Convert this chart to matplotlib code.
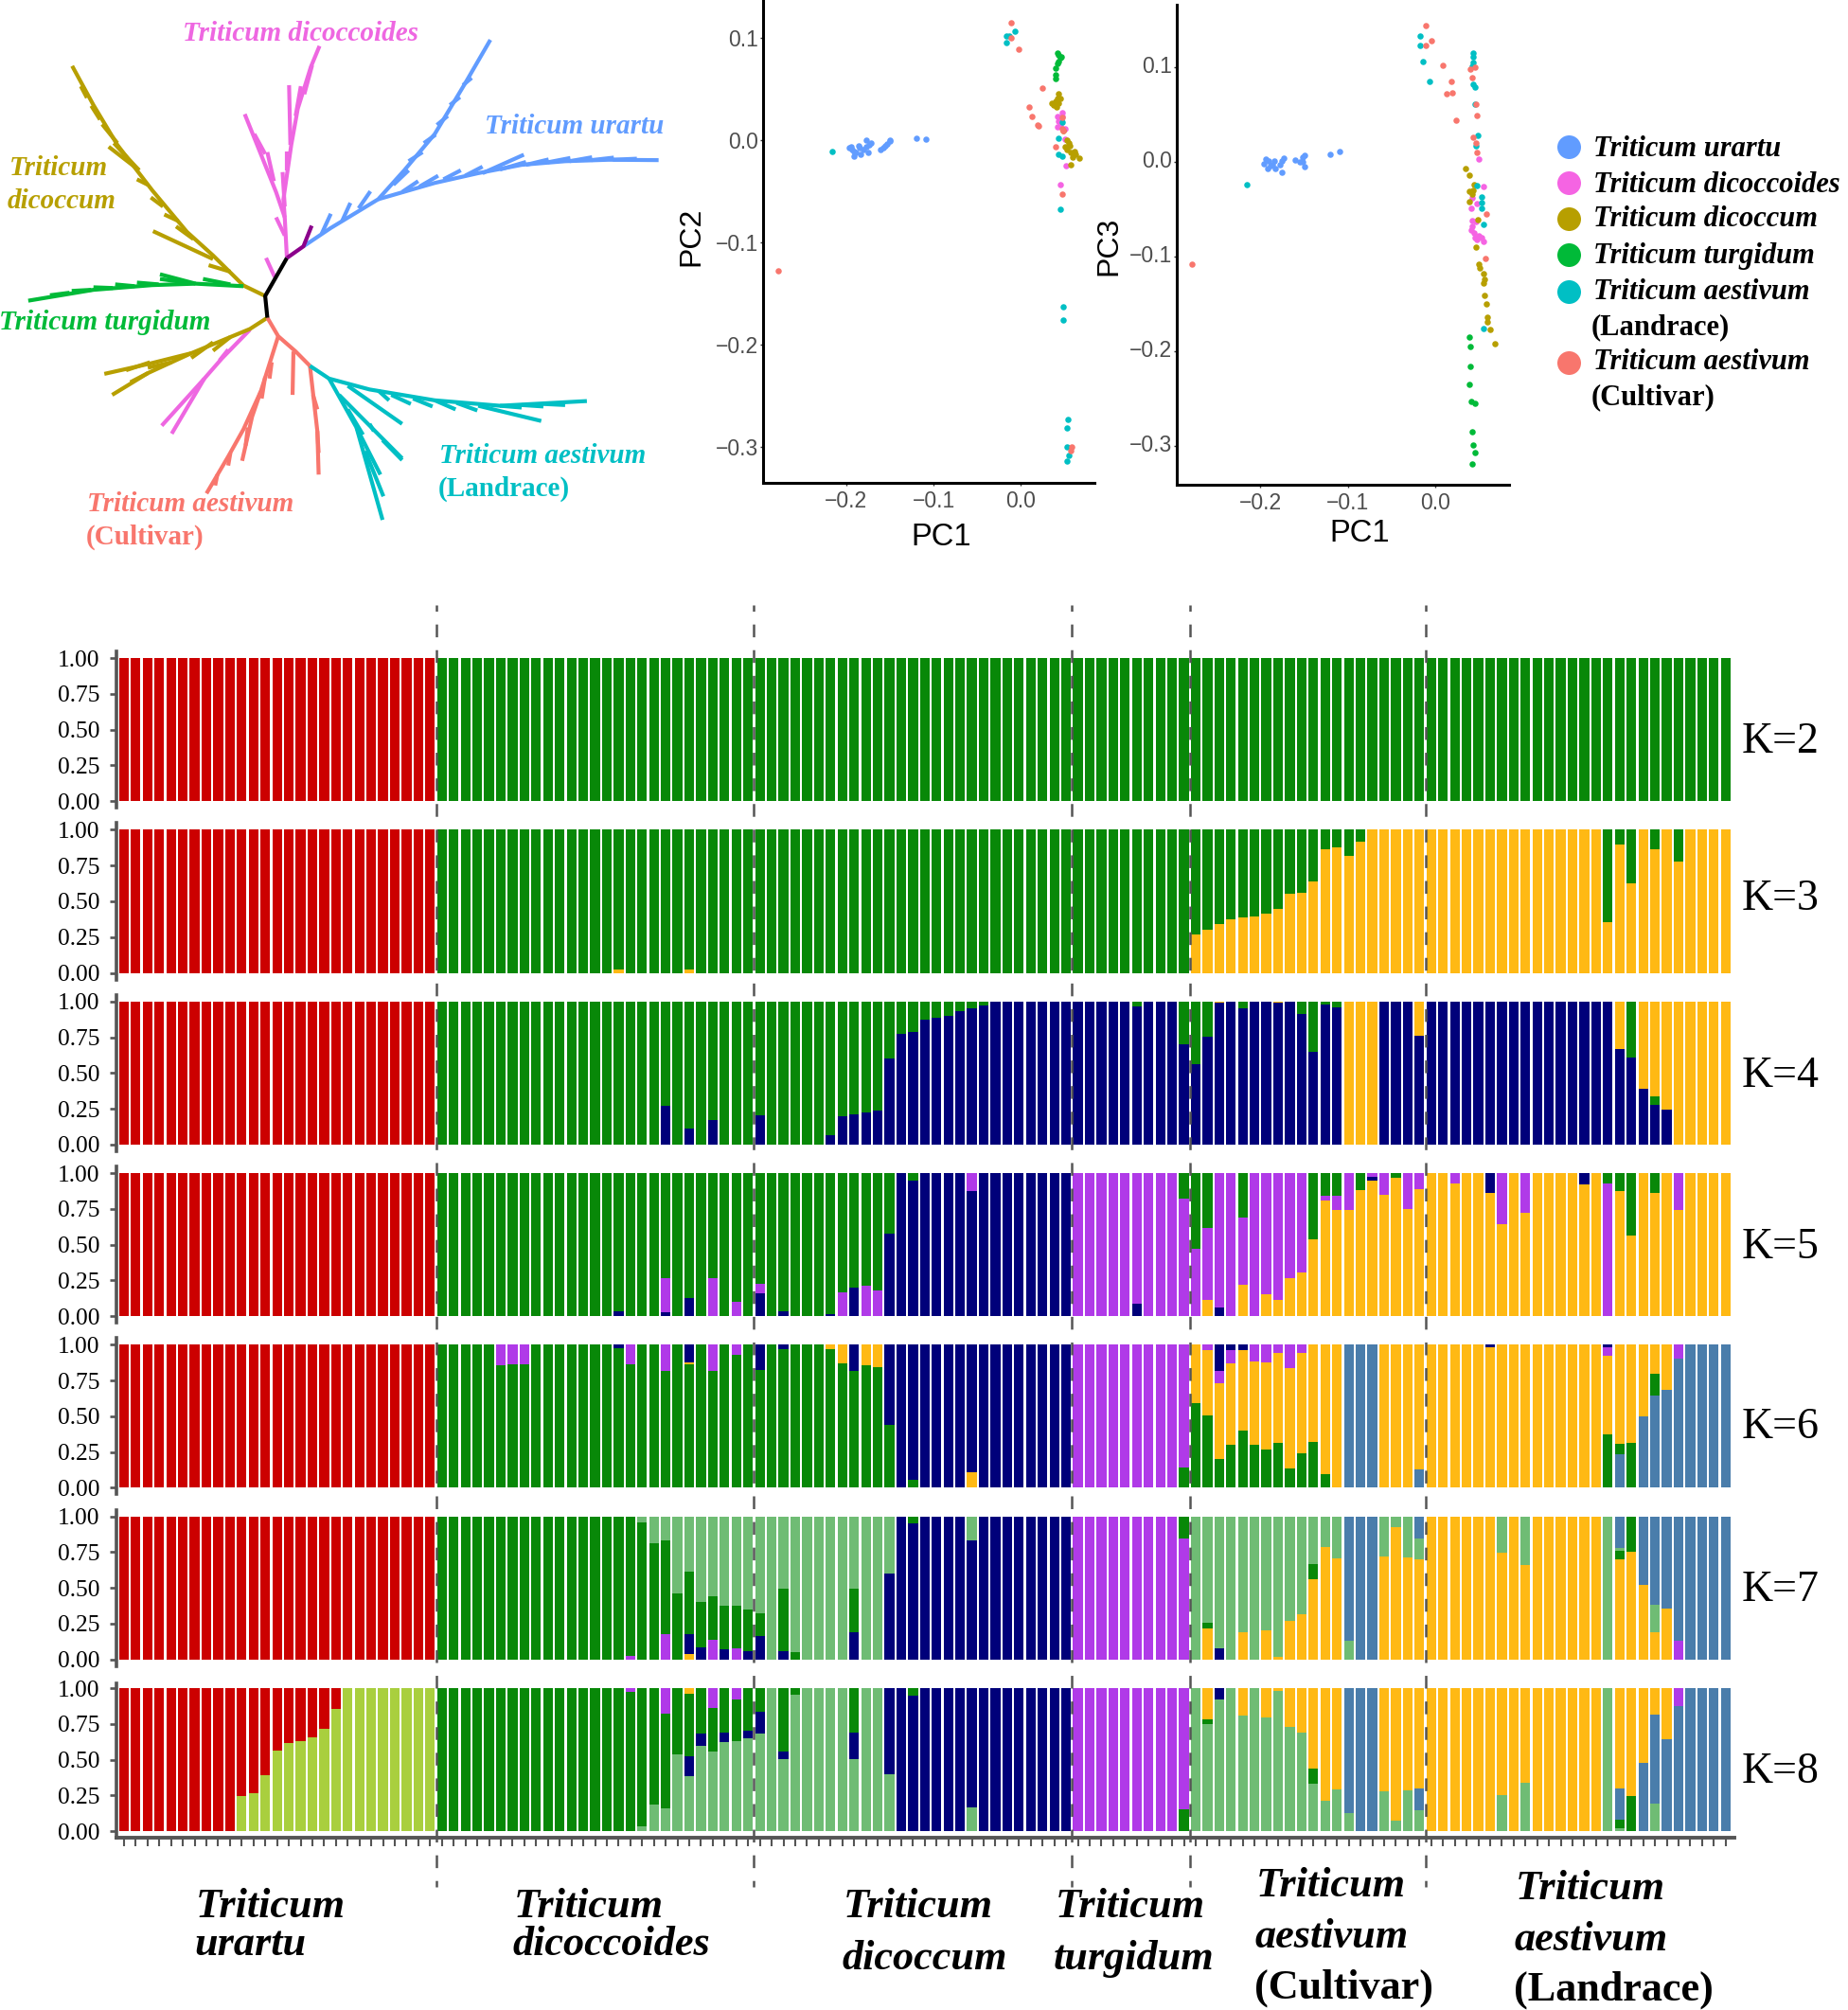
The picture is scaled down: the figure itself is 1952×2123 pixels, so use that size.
import matplotlib
matplotlib.use("Agg")
import matplotlib.pyplot as plt
from matplotlib.transforms import Affine2D
import numpy as np

W, H = 1952, 2123
plt.rcParams["lines.scale_dashes"] = False

# population sizes along the structure bars
group_sizes = [27, 27, 27, 10, 20, 26]
k_labels = ["K=2", "K=3", "K=4", "K=5", "K=6", "K=7", "K=8"]
k_baselines = [795, 961, 1148, 1329, 1519, 1691, 1883]
y_ticks = [0, .25, .5, .75, 1]

RED = "#cc0000"
GREEN = "#088808"
GOLD = "#ffb914"
NAVY = "#00007a"
PURPLE = "#b03ae8"
BLUE = "#4a7dab"
LIGHT = "#6fbc74"
LIME = "#a9cf3e"

red_all = [1]*27 + [0]*110

k3_gold = [0]*42 + [.02] + [0]*5 + [.02] + [0]*42 + [.27,.30,.34,.375,.385,.395,.413,.45,.55,.557,.64,.863,.88,.82,.918,1,1,1,1,1] \
    + [1]*15 + [.356,.897,.626,1,.863,1,.78] + [1]*4

k4_navy = [0]*46 + [.272,0,.112,0,.174,0,0,0] + [.206] + [0]*5 \
    + [.064,.2,.21,.222,.236,.60,.773,.785,.876,.886,.897,.934,.954,.973] + [1]*7 \
    + [1]*5 + [.966] + [1]*3 + [.70] \
    + [.56,.755,.99,1,.954,1,1,.99,1,.91,.648,.977,.961,0,0,0,1,1,1,.762] \
    + [1]*16 + [.668,.611,.387,.275,.247] + [0]*5
k4_gold = [0]*93 + [.01] + [0]*4 + [.01] + [0]*5 + [1,1,1] + [0,0,0] + [.238] + [0]*16 + [.332,0,.613,.663,.753] + [1]*5

k5_gold = [0]*92 + [.114,0,0,.22,0,.153,.114,.267,.303,.54,.809,.74,.74,.884,.95,.85,.968,.752,.888] \
    + [1,1,.927,1,1,.863,.645,1,.724,1,1,1,1,.92,1,0,.877,.563,1,.859,1,.74,1,1,1,1]
k5_navy = [0]*42 + [.032] + [0]*3 + [.027,0,.125] + [0]*5 + [.16,0,.034,0,0,0,.016,0,.198,0,0,.576,1,.95,1,1,1,1,.877] + [1]*8 \
    + [0]*5 + [.09] + [0]*6 + [.06] + [0]*12 + [.023] + [0]*9 + [.137] + [0]*7 + [.08] + [0]*12
k5_purple = [0]*46 + [.239,0,0,0,.267,0,.103,0,.066] + [0]*6 + [.169,0,.214,.182] + [0]*7 + [.123] + [0]*8 \
    + [1]*5 + [.91,1,1,1,.82] \
    + [.474,.501,.94,1,.47,1,.847,.886,.733,.697,0,.034,.103,.26,0,.027,.15,0,.248,.112] \
    + [0,0,.073,0,0,0,.355,0,.276] + [0]*6 + [.927] + [0]*5 + [.26] + [0]*4

k6_blue = [0]*104 + [1,1,1,0,0,0,.128] + [0]*16 + [.236,0,.50,.642,.688,.904] + [1]*4
k6_gold = [0]*48 + [.01] + [0]*11 + [.032,.133,0,.146,.156] + [0]*7 + [.107] + [0]*18 \
    + [.41,.459,.532,.564,.564,.578,.61,.626,.70,.697,.681,.904,1,0,0,0,1,1,1,.872] \
    + [1]*5 + [.98] + [1]*9 + [.553,.691,.686,.50,.204,.312] + [0]*5
k6_purple = [0]*32 + [.144,.135,.135] + [0]*8 + [.135,0,0,.181,0,.005,0,.181,0,.071] + [0]*28 \
    + [1]*9 + [.858] + [0,.036,.087,.096,0,.119,.122,.06,.162,.06] + [0]*25 + [.062] + [0]*5 + [.096] + [0]*4
k6_navy = [0]*42 + [.025] + [0]*5 + [.12] + [0]*5 + [.174,0,.032] + [0]*5 + [.185,0,0,.563,1,.945,1,1,1,1,.893] + [1]*8 \
    + [0]*12 + [.18,.037,.036] + [0]*20 + [.02] + [0]*9 + [.014] + [0]*10

k7_gold = [0]*48 + [.036] + [0]*43 + [.219,0,0,.191,0,.203,.02,.269,.317,.563,.788,.708,0,0,0,.722,.927,.715,.70] \
    + [1]*6 + [.747,1,.663] + [1]*6 + [0,.697,.754,.522,.187,.358] + [0]*5
k7_purple = [0]*43 + [.027,0,0,.175,0,0,0,.139,0,.077] + [0]*28 + [1]*9 + [.847] + [0]*41 + [.128] + [0]*4
k7_navy = [0]*48 + [.144,.082,0,.073,0,.059,.162,0,.059] + [0]*5 + [.191,0,0,.60,1,.95,1,1,1,1,.834] + [1]*8 + [0]*12 + [.077] + [0]*43
k7_light = [0]*44 + [.039,.189,.167,.538,.383,.601,.556,.622,.627,.649,.676,1,.506,.952,1,1,1,1,.506,1,1,.40] + [0]*6 + [.166] + [0]*18 \
    + [1,.745,.923,1,.809,1,.797,.98,.731,.683,.332,.212,.292,.128,0,0,.278,.073,.285,.146] \
    + [0]*6 + [.253,0,.337] + [0]*6 + [1,.016,0,0,.198] + [0]*6
k7_blue = [0]*104 + [.872,1,1,0,0,0,.154] + [0]*16 + [.223,0,.478,.615,.642,.872] + [1]*4

k8_lime = [0]*10 + [.247,.265,.393,.565,.614,.631,.658,.717,.856] + [1]*8 + [0]*110
k8_red = [1]*10 + [.753,.735,.607,.435,.386,.369,.342,.283,.144] + [0]*118
k8_light = [0]*44 + [.035,.188,.161,.536,.382,.598,.558,.625,.629,.651,.68,1,.503,.956,1,1,1,1,.503,1,1,.40] + [0]*6 + [.168] + [0]*18 \
    + [1,.746,.923,1,.808,1,.797,.982,.731,.691,.333,.214,.291,.128,0,0,.278,.073,.285,.143] \
    + [0]*6 + [.254,0,.338] + [0]*6 + [1,.018,0,0,.194] + [0]*6
k8_navy = [0]*48 + [.143,.082,0,.066,0,.051,.155,0,.055] + [0]*5 + [.183,0,0,.60,1,.949,1,1,1,1,.832] + [1]*8 + [0]*12 + [.077] + [0]*43
k8_blue = [0]*104 + [.872,1,1,0,0,0,.155] + [0]*16 + [.221,0,.475,.618,.642,.872] + [1]*4
k8_gold = [0]*48 + [.038] + [0]*43 + [.216,0,0,.192,0,.203,.018,.269,.309,.563,.786,.709,0,0,0,.722,.927,.715,.702] \
    + [1]*6 + [.746,1,.662] + [1]*6 + [0,.699,.757,.525,.188,.358] + [0]*5
k8_purple = [0]*43 + [.026,0,0,.177,0,0,0,.14,0,.077] + [0]*28 + [1]*9 + [.848] + [0]*41 + [.128] + [0]*4

# bottom to top, None is whatever is left of the bar
rows = [
    [(GREEN, None), (RED, red_all)],
    [(GOLD, k3_gold), (GREEN, None), (RED, red_all)],
    [(NAVY, k4_navy), (GREEN, None), (GOLD, k4_gold), (RED, red_all)],
    [(GOLD, k5_gold), (NAVY, k5_navy), (PURPLE, k5_purple), (GREEN, None), (RED, red_all)],
    [(BLUE, k6_blue), (GREEN, None), (GOLD, k6_gold), (PURPLE, k6_purple), (NAVY, k6_navy), (RED, red_all)],
    [(GOLD, k7_gold), (PURPLE, k7_purple), (NAVY, k7_navy), (GREEN, None), (LIGHT, k7_light), (BLUE, k7_blue), (RED, red_all)],
    [(LIME, k8_lime), (RED, k8_red), (LIGHT, k8_light), (NAVY, k8_navy), (GREEN, None), (BLUE, k8_blue), (GOLD, k8_gold), (PURPLE, k8_purple)],
]

# PCA, PC1 / PC2
a_urartu_x = [-.196,-.193,-.191,-.189,-.186,-.183,-.180,-.177,-.175,-.174,-.172,-.161,-.158,-.155,-.153,-.150,-.150,-.120,-.109,-.194,-.191,-.185,-.177]
a_urartu_y = [-.008,-.009,-.016,-.012,-.006,-.014,-.009,.000,-.012,-.005,-.003,-.009,-.008,-.006,-.004,-.001,.000,.002,.001,-.007,-.011,-.008,-.007]
a_land_x = [-.216,-.017,-.017,-.014,-.007,.047,.043,.043,.047,.045,.048,.048,.054,.053,.052,.055,.053]
a_land_y = [-.011,.095,.102,.102,.106,.017,.002,-.014,-.016,-.068,-.163,-.176,-.273,-.282,-.300,-.309,-.314]
a_cult_x = [-.278,-.011,-.011,-.003,.024,.009,.012,.019,.020,.039,.047,.047,.048,.047,.058,.057]
a_cult_y = [-.128,.115,.100,.089,.051,.032,.023,.015,.014,-.007,.022,.011,.009,-.053,-.300,-.304]
a_turg_x = [.042,.045,.042,.040,.040,.039,.043,.046,.043]
a_turg_y = [.085,.080,.075,.070,.064,.060,.083,.081,.077]
a_dicoides_x = [.047,.047,.042,.043,.042,.045,.050,.050,.051,.045]
a_dicoides_y = [.027,.023,.023,.018,.013,.014,.011,.001,-.025,-.044]
a_dicoccum_x = [.043,.042,.039,.035,.037,.041,.043,.045,.048,.053,.050,.055,.053,.057,.059,.062,.067,.057,.061,.056]
a_dicoccum_y = [.045,.041,.038,.036,.034,.032,.036,.041,.009,.000,-.007,-.003,-.009,-.012,-.017,-.014,-.018,-.024,-.011,-.006]

# PCA, PC1 / PC3
b_urartu_x = [-.194,-.196,-.192,-.189,-.186,-.183,-.176,-.178,-.175,-.173,-.160,-.155,-.152,-.150,-.152,-.150,-.120,-.109,-.191,-.184]
b_urartu_y = [.003,-.002,-.007,-.004,-.003,-.007,-.011,-.003,.001,.004,.002,.000,.005,.007,.000,-.005,.008,.011,.001,.001]
b_land_x = [-.216,-.017,-.017,-.014,-.007,.043,.043,.043,.042,.043,.046,.046,.049,.047,.048,.053,.053,.053,.055,.055]
b_land_y = [-.024,.133,.123,.106,.085,.115,.111,.105,.101,.082,.079,.061,.028,.017,-.025,-.037,-.043,-.049,-.066,-.176]
b_cult_x = [-.278,-.011,-.004,-.011,.009,.018,.019,.013,.024,.040,.046,.042,.047,.048,.043,.047,.048,.058,.057]
b_cult_y = [-.108,.144,.128,.123,.102,.085,.073,.072,.044,.098,.100,.089,.061,.049,.026,.020,.010,-.055,-.102]
b_turg_x = [.039,.040,.040,.039,.041,.045,.042,.043,.045,.042]
b_turg_y = [-.185,-.195,-.216,-.235,-.253,-.255,-.285,-.299,-.307,-.319]
b_dicoides_x = [.050,.055,.042,.041,.048,.042,.047,.041,.044,.045,.048,.053,.055,.042,.050]
b_dicoides_y = [.003,-.026,-.038,-.049,-.044,-.062,-.063,-.072,-.075,-.080,-.082,-.080,-.084,-.068,-.078]
b_dicoccum_x = [.035,.039,.044,.039,.043,.042,.039,.049,.047,.050,.051,.055,.055,.056,.056,.059,.060,.060,.063,.068]
b_dicoccum_y = [-.007,-.014,-.024,-.031,-.030,-.034,-.042,-.061,-.090,-.108,-.112,-.118,-.128,-.124,-.141,-.150,-.164,-.169,-.177,-.192]

C_URARTU = "#619CFF"
C_DICOIDES = "#F564E3"
C_DICOCCUM = "#B79F00"
C_TURG = "#00BA38"
C_LAND = "#00BFC4"
C_CULT = "#F8766D"

# tree branches, traced on a 1568 x 1568 grid over the top left corner
tree_black = [[(660,712),(610,817),(615,877)]]
tree_dark = [[(660,712),(698,680),(717,623)]]
tree_blue = [
    [(698,680),(760,630),(870,550),(930,470),(1000,370),(1070,230),(1128,110)],
    [(870,550),(1000,505),(1100,478),(1200,455),(1300,445),(1400,441),(1515,442)],
    [(787,610),(806,560)], [(740,645),(761,590)], [(825,575),(852,528)],
    [(925,530),(962,500)], [(965,515),(1008,485)], [(1020,495),(1060,470)], [(1070,485),(1110,460)],
    [(1110,478),(1205,427)], [(1150,468),(1210,447)], [(1210,455),(1262,440)], [(1260,448),(1312,436)],
    [(1310,445),(1362,434)], [(1360,442),(1412,435)], [(1410,441),(1465,438)],
    [(905,510),(940,470)], [(940,445),(972,420)], [(975,395),(1002,372)], [(1005,345),(1030,320)],
    [(1035,290),(1058,268)], [(1065,235),(1085,215)],
]
tree_pink = [
    [(660,712),(655,600),(652,550),(670,400),(685,300),(715,185),(735,127)],
    [(655,600),(635,530),(563,315)], [(668,400),(665,235)], [(680,320),(692,238)], [(700,260),(718,180)],
    [(655,570),(650,475)], [(660,470),(660,418)], [(630,500),(615,420)], [(610,425),(585,370)],
    [(655,650),(635,600)], [(632,765),(612,712)],
    [(575,910),(510,990),(470,1045),(372,1175)], [(470,1045),(395,1197)], [(505,995),(525,965)],
]
tree_olive = [
    [(610,817),(560,788),(490,705),(430,640),(350,525),(270,400),(215,290),(166,182)],
    [(490,715),(352,638)], [(530,750),(480,732)], [(445,660),(405,625)], [(410,610),(378,592)],
    [(375,570),(347,545)], [(340,510),(315,495)], [(320,470),(250,405)], [(320,470),(262,395)],
    [(270,395),(235,343)], [(230,330),(210,292)], [(200,270),(186,238)],
    [(615,877),(575,908),(440,975),(340,1005),(240,1032)], [(440,975),(340,1030),(258,1090)],
    [(530,930),(490,968)], [(490,945),(440,988)], [(395,1000),(340,1015)], [(345,1000),(290,1022)], [(340,1030),(300,1055)],
]
tree_green = [
    [(560,790),(450,783),(350,787),(215,800),(65,830)],
    [(450,783),(368,757)], [(530,785),(467,770)], [(430,780),(368,770)], [(365,785),(315,780)],
    [(310,790),(265,785)], [(260,795),(215,793)], [(210,800),(165,803)], [(160,808),(115,815)],
]
tree_salmon = [
    [(615,877),(640,928),(680,970),(713,1010)],
    [(640,928),(600,1080),(560,1185),(525,1260),(475,1362)], [(600,1080),(580,1150),(557,1272)],
    [(625,1000),(620,1045)], [(610,1040),(602,1100)], [(570,1180),(565,1230)], [(530,1250),(525,1285)], [(500,1310),(495,1340)],
    [(675,970),(673,1090)],
    [(713,1010),(730,1190),(733,1310)], [(720,1090),(730,1130)], [(730,1190),(733,1250)],
]
tree_teal = [
    [(713,1010),(757,1045),(850,1075),(1000,1105),(1150,1120),(1350,1107)],
    [(757,1045),(820,1180),(880,1435)], [(800,1065),(925,1170)], [(780,1090),(925,1265)],
    [(1100,1120),(1245,1162)], [(870,1078),(895,1105)], [(900,1090),(945,1115)], [(950,1100),(995,1122)],
    [(1000,1105),(1048,1130)], [(1050,1112),(1098,1133)], [(1150,1120),(1200,1125)], [(1200,1118),(1250,1122)],
    [(1250,1115),(1300,1118)], [(820,1180),(875,1310)], [(840,1245),(882,1370)], [(800,1130),(835,1200)],
    [(850,1170),(860,1190)], [(880,1215),(925,1270)],
]

SERIF = "Liberation Serif"
SANS = "Liberation Sans"
GREY = "#555555"

fig = plt.figure(figsize=(W/100, H/100), dpi=100)


def box(left, top, right, bottom):
    return [left/W, 1-bottom/H, (right-left)/W, (bottom-top)/H]


# tree
tree = fig.add_axes(box(0, 0, 720, 600))
tree.set_xlim(0, 1568)
tree.set_ylim(1568, 0)
tree.axis("off")
for lines, col in [(tree_blue, C_URARTU), (tree_pink, "#EE67E1"), (tree_olive, C_DICOCCUM), (tree_green, C_TURG),
                   (tree_salmon, C_CULT), (tree_teal, C_LAND), (tree_black, "black"), (tree_dark, "#8B008B")]:
    for line in lines:
        pts = np.array(line)
        tree.plot(pts[:, 0], pts[:, 1], color=col, lw=3.0, solid_capstyle="butt", solid_joinstyle="round")


# PCA panels
def pca_panel(pos, xlim, ylim, series, ylab_shift=0):
    ax = fig.add_axes(pos)
    ax.set_xlim(*xlim)
    ax.set_ylim(*ylim)
    for xs, ys, col in series:
        ax.scatter(xs, ys, s=22, color=col, linewidths=0, clip_on=False)
    for s in ["top", "right"]:
        ax.spines[s].set_visible(False)
    for s in ["left", "bottom"]:
        ax.spines[s].set_linewidth(2.2)
    ax.set_xticks([-.2, -.1, 0])
    ax.set_yticks([.1, 0, -.1, -.2, -.3])
    ax.xaxis.set_major_formatter(lambda v, _: f"{v:.1f}".replace("-", "\u2212"))
    ax.yaxis.set_major_formatter(lambda v, _: f"{v:.1f}".replace("-", "\u2212"))
    ax.tick_params(axis="x", length=2.5, width=1, color="#333333", labelcolor="#4d4d4d", labelsize=16.5, pad=3)
    ax.tick_params(axis="y", length=2.5, width=1, color="#333333", labelcolor="#4d4d4d", labelsize=16.5, pad=1)
    for t in ax.get_xticklabels() + ax.get_yticklabels():
        t.set_family(SANS)
    if ylab_shift:
        for t in ax.get_yticklabels():
            t.set_transform(t.get_transform() + Affine2D().translate(0, ylab_shift))
    return ax


pca_panel(box(806, 0, 1156, 510), (-.295, .0839), (-.3355, .1369), [
    (a_urartu_x, a_urartu_y, C_URARTU), (a_dicoides_x, a_dicoides_y, C_DICOIDES), (a_dicoccum_x, a_dicoccum_y, C_DICOCCUM),
    (a_turg_x, a_turg_y, C_TURG), (a_land_x, a_land_y, C_LAND), (a_cult_x, a_cult_y, C_CULT)])
pca_panel(box(1243, 4.6, 1594, 512), (-.2957, .0845), (-.3414, .1667), [
    (b_urartu_x, b_urartu_y, C_URARTU), (b_dicoides_x, b_dicoides_y, C_DICOIDES), (b_dicoccum_x, b_dicoccum_y, C_DICOCCUM),
    (b_turg_x, b_turg_y, C_TURG), (b_land_x, b_land_y, C_LAND), (b_cult_x, b_cult_y, C_CULT)], ylab_shift=3)

# structure bars
n_bars = sum(group_sizes)
bar_left = 124.7
pitch = 12.44
xs = np.arange(n_bars)
x_lo = (123.3 - bar_left)/pitch - .5
x_hi = (1831.5 - bar_left)/pitch - .5
row_top = 695.2
row_step = 181.3
row_h = 151.0

for r, comps in enumerate(rows):
    top = row_top + r*row_step
    bottom = top + row_h
    last = r == len(rows) - 1
    pad_lo = 7.4 if last else 7.0
    pad_hi = 5.5 if last else 7.0
    ax = fig.add_axes(box(123.3, top-pad_hi, 1831.5, bottom+pad_lo))
    ax.set_xlim(x_lo, x_hi)
    ax.set_ylim(-pad_lo/row_h, 1+pad_hi/row_h)
    ax.patch.set_alpha(0)

    given = [np.array(v, float) for _, v in comps if v is not None]
    for v in given:
        assert len(v) == n_bars, (r, len(v))
    rest = np.clip(1 - np.sum(given, axis=0), 0, 1)
    rest[rest < .006] = 0

    base = np.zeros(n_bars)
    for col, v in comps:
        vals = rest if v is None else np.array(v, float)
        keep = vals > 0
        ax.bar(xs[keep], vals[keep], bottom=base[keep], width=.82, color=col, linewidth=0)
        base += vals

    for s in ["top", "right"]:
        ax.spines[s].set_visible(False)
    ax.spines["left"].set_color(GREY)
    ax.spines["left"].set_linewidth(2.6)
    ax.set_yticks(y_ticks)
    ax.set_yticklabels([f"{t:.2f}" for t in y_ticks], family=SERIF, fontsize=18.4, color="black")
    ax.tick_params(axis="y", length=5, width=1.9, color=GREY, pad=8)
    if last:
        ax.spines["bottom"].set_color(GREY)
        ax.spines["bottom"].set_linewidth(2.8)
        ax.set_xticks(xs)
        ax.set_xticklabels([])
        ax.tick_params(axis="x", length=6.5, width=1.5, color=GREY)
    else:
        ax.spines["bottom"].set_visible(False)
        ax.set_xticks([])

# labels, legend and separators live on one pixel-sized overlay
ov = fig.add_axes([0, 0, 1, 1], zorder=10)
ov.set_xlim(0, W)
ov.set_ylim(H, 0)
ov.axis("off")

for b in np.cumsum(group_sizes)[:-1]:
    x = bar_left + pitch*b
    ov.plot([x, x], [639, 1993], color=GREY, lw=1.8, linestyle=(5.0, (9.72, 9.78)))


def label(x, y, s, size, color="black", style="italic", weight="bold", family=SERIF, **kw):
    ov.text(x, y, s, fontsize=size, color=color, style=style, weight=weight, family=family, va="baseline", **kw)


for k, yy in zip(k_labels, k_baselines):
    label(1840, yy, k, 33, style="normal", weight="normal")

# species names below the bars
big = 31.9
label(207, 2025, "Triticum", big)
label(205, 2065, "urartu", big)
label(543, 2025, "Triticum", big)
label(541, 2065, "dicoccoides", big)
label(891, 2025, "Triticum", big)
label(889, 2080, "dicoccum", big)
label(1115, 2025, "Triticum", big)
label(1113, 2080, "turgidum", big)
label(1327, 2003, "Triticum", big)
label(1325, 2057, "aestivum", big)
label(1325, 2111, "(Cultivar)", big, style="normal")
label(1601, 2006, "Triticum", big)
label(1599, 2060, "aestivum", big)
label(1599, 2113, "(Landrace)", big, style="normal")

# species names on the tree
tree_size = 21
label(193, 43, "Triticum dicoccoides", tree_size, color="#EE67E1")
label(512, 141, "Triticum urartu", tree_size, color=C_URARTU)
label(10, 185, "Triticum", tree_size, color=C_DICOCCUM)
label(8, 220, "dicoccum", tree_size, color=C_DICOCCUM)
label(-1, 348, "Triticum turgidum", tree_size, color=C_TURG)
label(464, 489, "Triticum aestivum", tree_size, color=C_LAND)
label(463, 524, "(Landrace)", tree_size, color=C_LAND, style="normal")
label(92, 540, "Triticum aestivum", tree_size, color=C_CULT)
label(91, 575, "(Cultivar)", tree_size, color=C_CULT, style="normal")

# PCA axis names
label(994, 576, "PC1", 23.5, style="normal", weight="normal", family=SANS, ha="center")
label(1436, 572, "PC1", 23.5, style="normal", weight="normal", family=SANS, ha="center")
ov.text(730, 250, "PC2", fontsize=23, family=SANS, rotation=90, ha="center", va="center")
ov.text(1171, 260, "PC3", fontsize=23, family=SANS, rotation=90, ha="center", va="center")

# legend
legend_cols = [C_URARTU, C_DICOIDES, C_DICOCCUM, C_TURG, C_LAND, C_CULT]
legend_marks = [155, 193, 231, 269, 308, 383]
for col, yy in zip(legend_cols, legend_marks):
    ov.plot([1657], [yy], "o", color=col, markersize=18, markeredgewidth=0)
leg = 22
label(1683, 165, "Triticum urartu", leg)
label(1683, 203, "Triticum dicoccoides", leg)
label(1683, 239, "Triticum dicoccum", leg)
label(1683, 278, "Triticum turgidum", leg)
label(1683, 316, "Triticum aestivum", leg)
label(1681, 353, "(Landrace)", leg, style="normal")
label(1683, 390, "Triticum aestivum", leg)
label(1681, 427, "(Cultivar)", leg, style="normal")

fig.savefig("out.png", dpi=100, facecolor="white")
